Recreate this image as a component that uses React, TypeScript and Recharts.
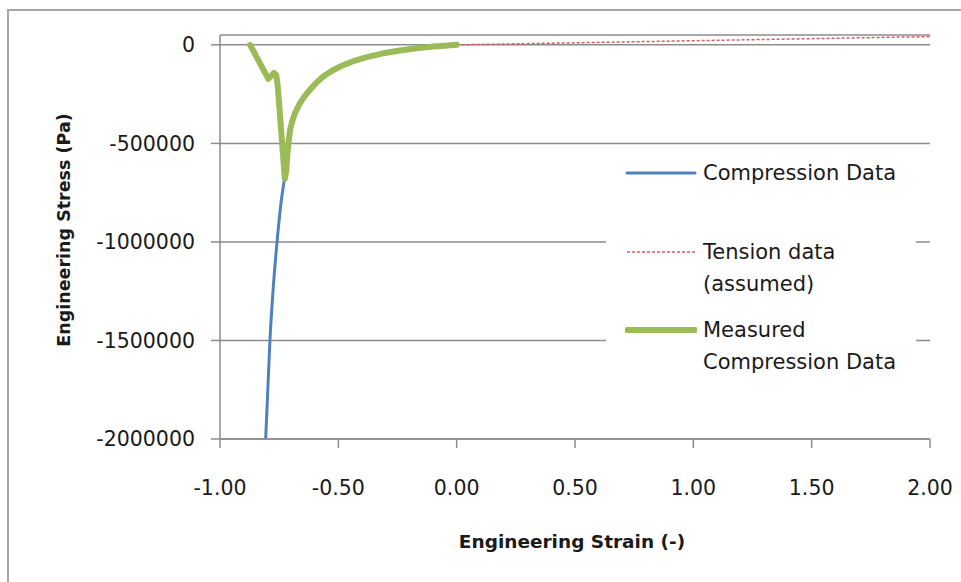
import React from 'react';
import { LineChart, Line, XAxis, YAxis, CartesianGrid, Legend, Label } from 'recharts';

const compressionStrain = [-0.807, -0.798, -0.789, -0.776, -0.759, -0.742, -0.728, -0.716, -0.704, -0.683, -0.662, -0.62, -0.564, -0.493, -0.38, -0.24, -0.099, 0];
const compressionStress = [-2000000, -1750000, -1500000, -1250000, -1000000, -800000, -680000, -567000, -431000, -345000, -296000, -228000, -161000, -110000, -62000, -29000, -8500, 0];

const tensionStrain = [0, 0.5, 1.0, 1.5, 2.0];
const tensionStress = [0, 10500, 21000, 31500, 42000];

const measuredStrain = [-0.873, -0.835, -0.796, -0.785, -0.772, -0.762, -0.756, -0.745, -0.735, -0.726, -0.72, -0.716, -0.71, -0.704, -0.694, -0.683, -0.662, -0.642, -0.62, -0.594, -0.564, -0.53, -0.493, -0.44, -0.38, -0.31, -0.24, -0.17, -0.099, -0.05, 0];
const measuredStress = [0, -85000, -172000, -160000, -142000, -155000, -210000, -380000, -540000, -680000, -640000, -567000, -490000, -431000, -385000, -345000, -296000, -260000, -228000, -193000, -161000, -134000, -110000, -84000, -62000, -43000, -29000, -17000, -8500, -4000, 0];

const xTicks = [-1, -0.5, 0, 0.5, 1, 1.5, 2];
const yTicks = [0, -500000, -1000000, -1500000, -2000000];

const legendOrder = ['Compression Data', 'Tension data (assumed)', 'Measured Compression Data'];

const toPoints = (xs: number[], ys: number[]) => xs.map((x, i) => ({ x, y: ys[i] }));

const compressionData = toPoints(compressionStrain, compressionStress);
const tensionData = toPoints(tensionStrain, tensionStress);
const measuredData = toPoints(measuredStrain, measuredStress);

const FONT = '"DejaVu Sans", sans-serif';
const GRID = '#8c8c8c';
const TEXT = '#1a1a1a';

const lineStyles: Record<string, { width: number; dash?: string }> = {
  'Compression Data': { width: 3 },
  'Tension data (assumed)': { width: 1.5, dash: '3 2' },
  'Measured Compression Data': { width: 6 },
};

const LegendBox = (props: any) => {
  const payload = [...(props.payload || [])].sort(
    (a: any, b: any) => legendOrder.indexOf(a.value) - legendOrder.indexOf(b.value)
  );
  return (
    <div style={{ position: 'relative', width: 310, height: 235, background: '#fff', fontFamily: FONT, fontSize: 21, color: TEXT }}>
      {payload.map((entry: any, i: number) => {
        const st = lineStyles[entry.value] || { width: 2 };
        return (
          <div key={entry.value} style={{ position: 'absolute', left: 19, top: 7 + i * 78.5, display: 'flex', alignItems: 'flex-start' }}>
            <svg width={72} height={32} style={{ flex: 'none' }}>
              <line x1={2} y1={16} x2={70} y2={16} stroke={entry.color} strokeWidth={st.width} strokeDasharray={st.dash} strokeLinecap={st.dash ? 'butt' : 'round'} />
            </svg>
            <div style={{ marginLeft: 6, width: 205, lineHeight: '32px' }}>{entry.value}</div>
          </div>
        );
      })}
    </div>
  );
};

export default function App() {
  return (
    <div style={{ position: 'absolute', left: 0, top: 0, width: 961, height: 582, background: '#fff', overflow: 'hidden' }}>
      <div style={{ position: 'absolute', left: 7, top: 9, width: 980, height: 600, border: '2px solid #a6a6a6' }} />
      <LineChart width={961} height={582} margin={{ top: 35, right: 31, left: 0, bottom: 0 }}>
        <CartesianGrid horizontal vertical={false} stroke={GRID} strokeWidth={1.5} />
        <XAxis
          type="number"
          dataKey="x"
          domain={[-1, 2]}
          ticks={xTicks}
          tickFormatter={(v: number) => v.toFixed(2)}
          height={143}
          stroke={GRID}
          strokeWidth={1.5}
          tickSize={9}
          tickMargin={32}
          tick={{ fill: TEXT, fontSize: 20.5, fontFamily: FONT }}
        >
          <Label
            content={(p: any) => (
              <text x={p.viewBox.x + p.viewBox.width / 2 - 3} y={p.viewBox.y + 109} textAnchor="middle" fontFamily={FONT} fontSize={18.5} fontWeight="bold" fill={TEXT}>
                Engineering Strain (-)
              </text>
            )}
          />
        </XAxis>
        <YAxis
          type="number"
          dataKey="y"
          domain={[-2000000, 50000]}
          ticks={yTicks}
          width={220}
          stroke={GRID}
          strokeWidth={1.5}
          tickSize={9}
          tickMargin={16}
          tick={{ fill: TEXT, fontSize: 20.5, fontFamily: FONT }}
        >
          <Label
            content={() => (
              <text transform="translate(70,230) rotate(-90)" textAnchor="middle" fontFamily={FONT} fontSize={17.5} fontWeight="bold" fill={TEXT}>
                Engineering Stress (Pa)
              </text>
            )}
          />
        </YAxis>
        <Legend
          layout="vertical"
          align="center"
          verticalAlign="middle"
          content={<LegendBox />}
          wrapperStyle={{ left: 606, top: 150, width: 310, height: 235 }}
        />
        <Line data={compressionData} dataKey="y" name="Compression Data" type="monotone" stroke="#4f81bd" strokeWidth={3} dot={false} activeDot={false} isAnimationActive={false} />
        <Line data={tensionData} dataKey="y" name="Tension data (assumed)" type="linear" stroke="#d06060" strokeWidth={1.5} strokeDasharray="3 2" dot={false} activeDot={false} isAnimationActive={false} />
        <Line data={measuredData} dataKey="y" name="Measured Compression Data" type="linear" stroke="#9bbb59" strokeWidth={6} strokeLinecap="round" strokeLinejoin="round" dot={false} activeDot={false} isAnimationActive={false} />
      </LineChart>
    </div>
  );
}
